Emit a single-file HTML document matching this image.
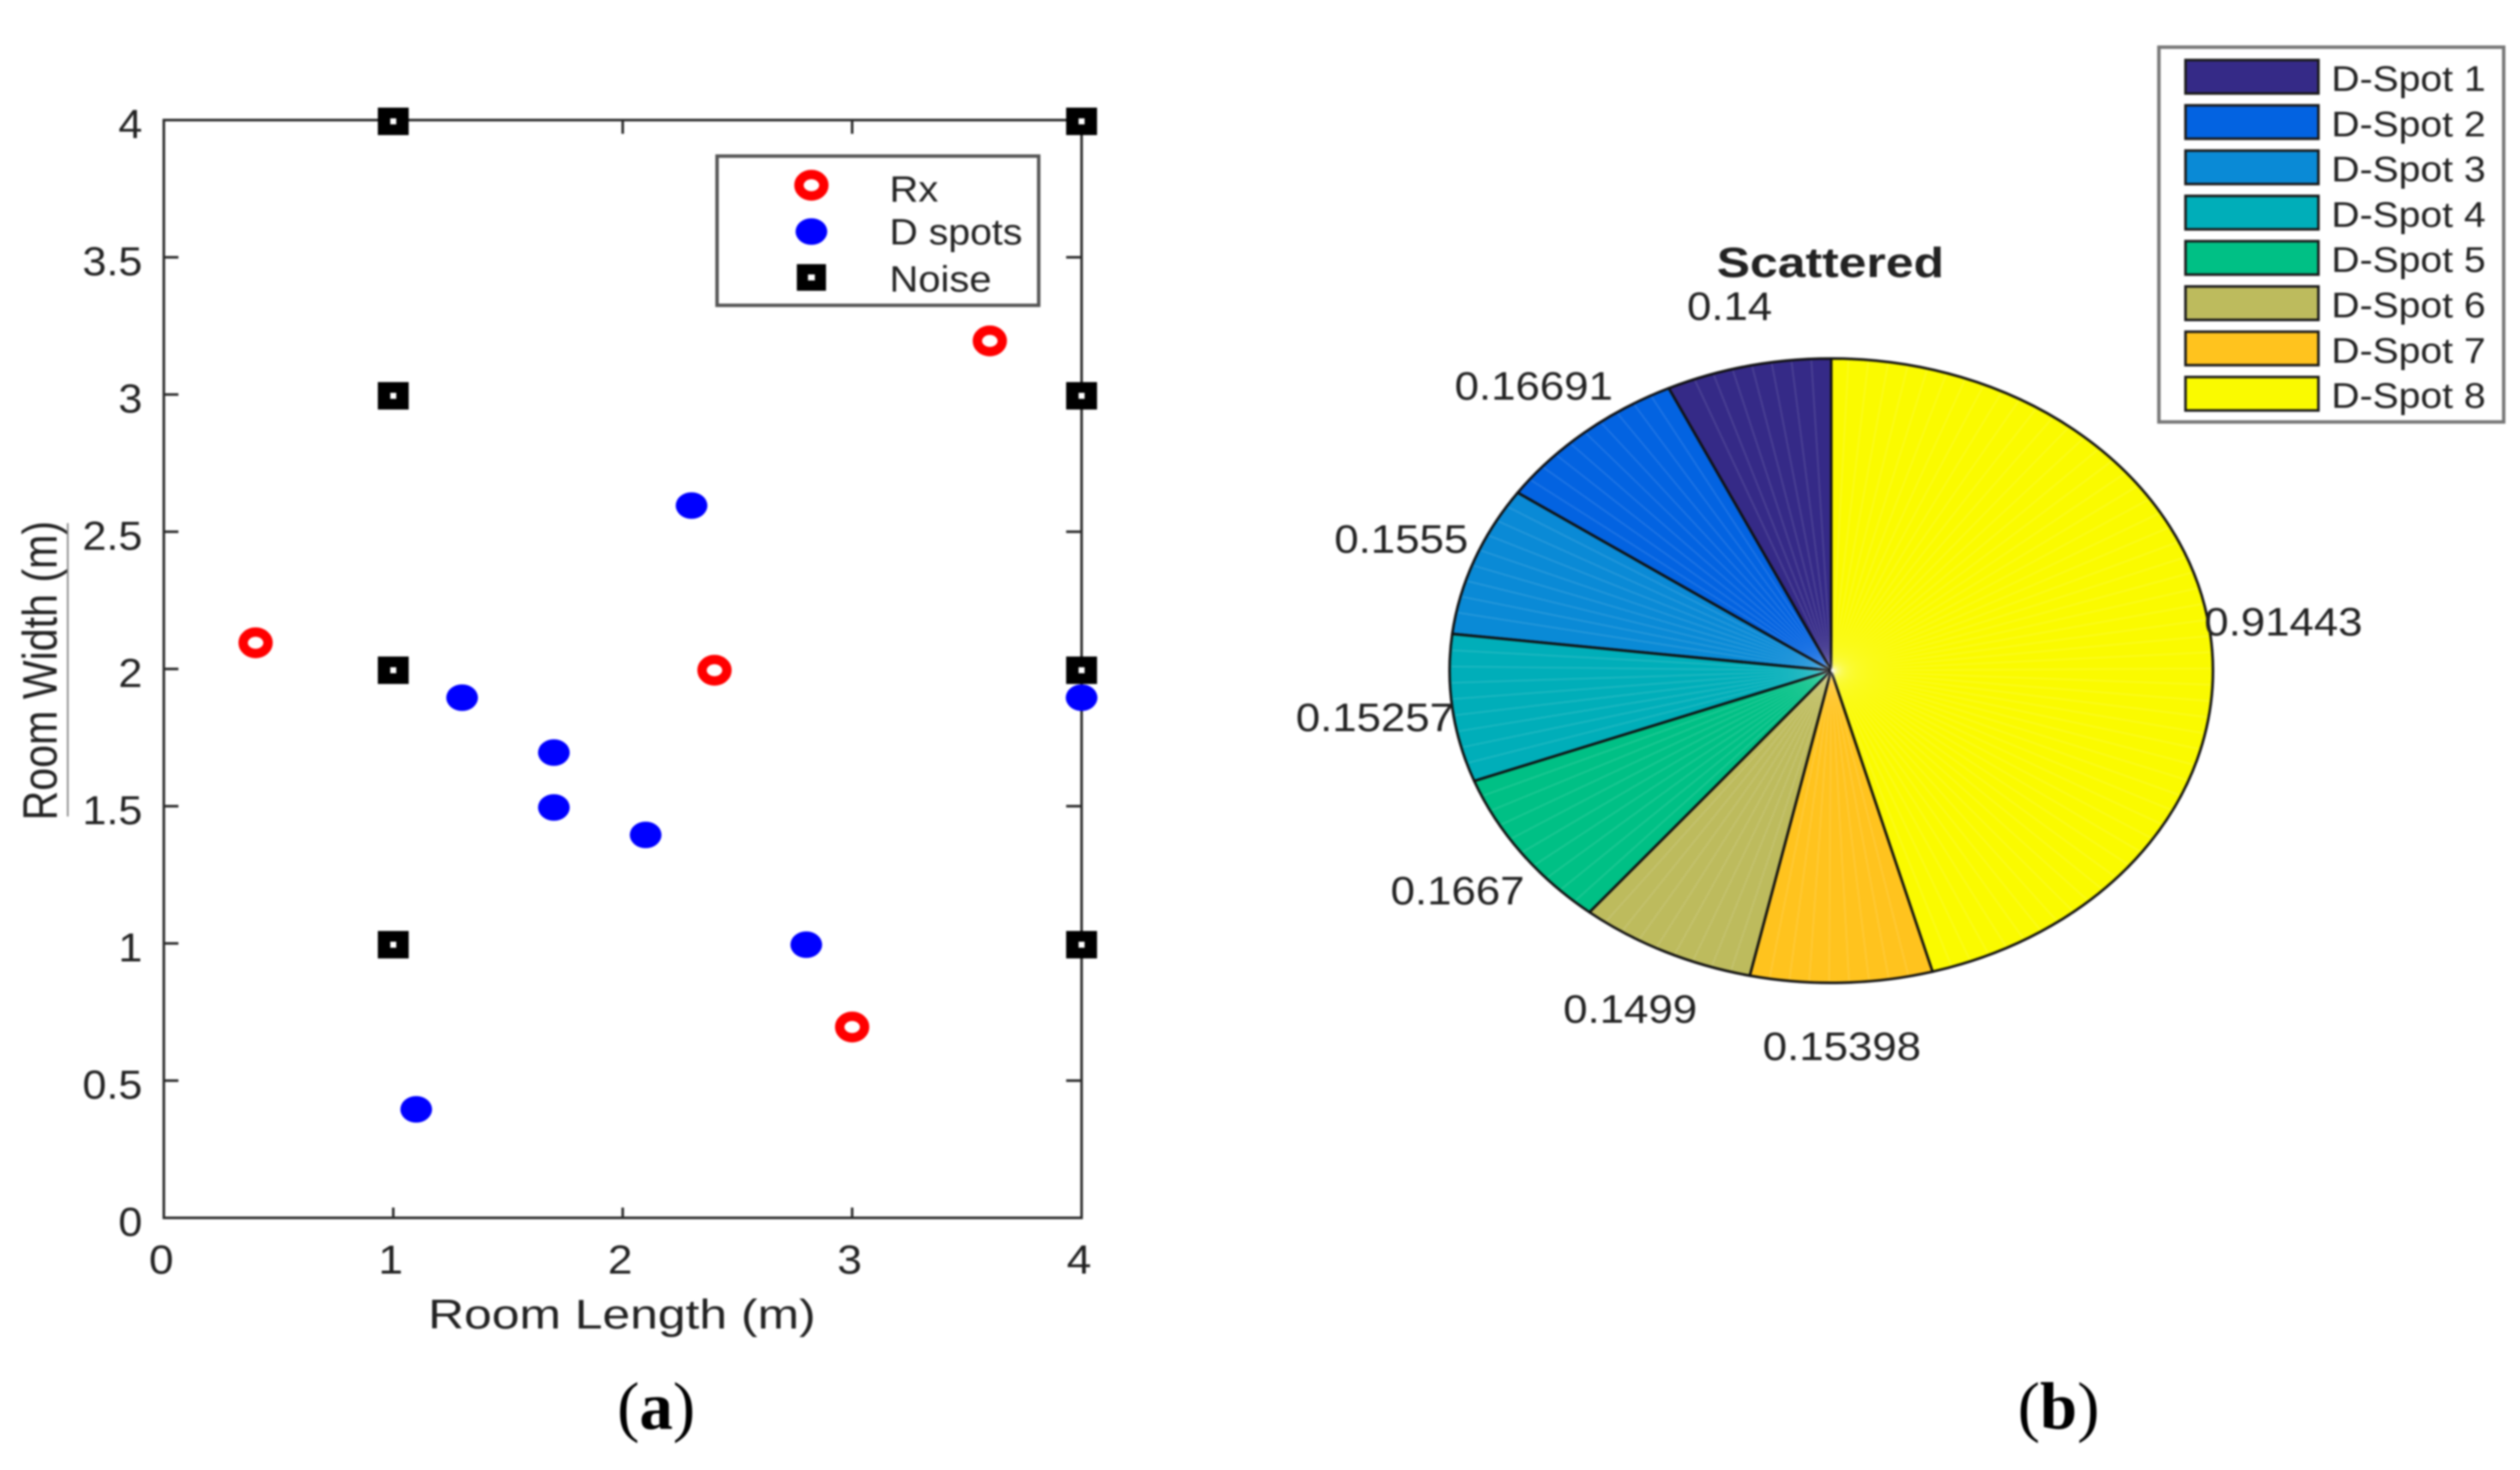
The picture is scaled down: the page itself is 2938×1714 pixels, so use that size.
<!DOCTYPE html>
<html>
<head>
<meta charset="utf-8">
<title>Room layout scatter and scattered power pie</title>
<style>
html,body{margin:0;padding:0;background:#fff;}
svg{display:block;filter:blur(1.1px);}
text{font-family:"Liberation Sans",sans-serif;fill:#222;}
</style>
</head>
<body>
<svg id="fig" xmlns="http://www.w3.org/2000/svg" width="2938" height="1714" viewBox="0 0 2938 1714">
  <rect width="2938" height="1714" fill="#fff"/>
  <g id="scatter">
    <rect x="191" y="140" width="1070" height="1280" fill="none" stroke="#2a2a2a" stroke-width="3"/>
    <g id="ticks"></g>
    <g id="marks"></g>
    <text transform="translate(725,1549) scale(1.21,1)" text-anchor="middle" font-size="48">Room Length (m)</text>
    <text transform="translate(66,782) rotate(-90) scale(1,1.18)" text-anchor="middle" font-size="48">Room Width (m)</text>
    <line x1="79" y1="610" x2="79" y2="952" stroke="#8a8a8a" stroke-width="2"/>
    <g id="legend-a">
      <rect x="836" y="182" width="375" height="174" fill="#fff" stroke="#555" stroke-width="4"/>
      <ellipse cx="946" cy="216" rx="14.5" ry="12.5" fill="none" stroke="#ff0000" stroke-width="11"/>
      <text x="1037" y="235" font-size="43" textLength="57" lengthAdjust="spacingAndGlyphs">Rx</text>
      <ellipse cx="946" cy="270" rx="18.5" ry="15.5" fill="#0000ff"/>
      <text x="1037" y="285" font-size="43" textLength="155" lengthAdjust="spacingAndGlyphs">D spots</text>
      <rect x="929" y="308" width="34" height="31" fill="#000"/>
      <rect x="942" y="320" width="8" height="7" fill="#fff"/>
      <text x="1037" y="340" font-size="43" textLength="119" lengthAdjust="spacingAndGlyphs">Noise</text>
    </g>
  </g>
  <g id="pie">
    <text x="2134" y="323" text-anchor="middle" font-size="49" font-weight="bold" textLength="265" lengthAdjust="spacingAndGlyphs">Scattered</text>
    <g id="wedges"></g>
    <g id="pie-labels"></g>
    <g id="legend-b">
      <rect x="2517" y="55" width="402" height="437" fill="#fff" stroke="#777" stroke-width="4"/>
    </g>
  </g>
  <text x="765" y="1666" text-anchor="middle" font-size="78" style="font-family:'Liberation Serif',serif;fill:#000">(<tspan font-weight="bold">a</tspan>)</text>
  <text x="2400" y="1666" text-anchor="middle" font-size="78" style="font-family:'Liberation Serif',serif;fill:#000">(<tspan font-weight="bold">b</tspan>)</text>
</svg>
<script>
const xTicks = [0, 1, 2, 3, 4];
const yTicks = [0, 0.5, 1, 1.5, 2, 2.5, 3, 3.5, 4];
const rxX = [0.4, 3.6, 2.4, 3.0];
const rxY = [2.1, 3.2, 2.0, 0.7];
const dSpotX = [2.3, 1.3, 1.7, 1.7, 2.1, 2.8, 1.1, 4.0];
const dSpotY = [2.6, 1.9, 1.7, 1.5, 1.4, 1.0, 0.4, 1.9];
const noiseX = [1, 1, 1, 1, 4, 4, 4, 4];
const noiseY = [1, 2, 3, 4, 1, 2, 3, 4];
const pieValues = [0.14, 0.16691, 0.1555, 0.15257, 0.1667, 0.1499, 0.15398, 0.91443];
const pieNames = ["D-Spot 1", "D-Spot 2", "D-Spot 3", "D-Spot 4", "D-Spot 5", "D-Spot 6", "D-Spot 7", "D-Spot 8"];
const pieColors = ["#352a87", "#0363e1", "#0a8ad6", "#00aeb9", "#00c085", "#bdbb5d", "#ffc31e", "#fafa00"];

const NS = "http://www.w3.org/2000/svg";
function make(tag, parent, attrs, content) {
  const n = document.createElementNS(NS, tag);
  for (const k in attrs) n.setAttribute(k, attrs[k]);
  if (content !== undefined) n.textContent = content;
  parent.appendChild(n);
  return n;
}
const xScale = v => 191 + 267.5 * v;
const yScale = v => 1420 - 320 * v;
const markY = v => yScale(v) + 1.5;

const tickGroup = document.getElementById("ticks");
const tickStyle = { stroke: "#2a2a2a", "stroke-width": 3 };
xTicks.forEach(t => {
  const x = xScale(t);
  if (t > 0 && t < 4) {
    const b = make("line", tickGroup, Object.assign({ x1: x, x2: x, y1: 1420, y2: 1408 }, tickStyle));
    
    
    const u = make("line", tickGroup, Object.assign({ x1: x, x2: x, y1: 140, y2: 156 }, tickStyle));
    
    
  }
  const lab = make("text", tickGroup, { transform: "translate(" + (x - 3) + ",1485) scale(1.1,1)", "text-anchor": "middle", "font-size": 47 }, String(t));
  
  
});
yTicks.forEach(t => {
  const y = yScale(t);
  if (t > 0 && t < 4) {
    const l = make("line", tickGroup, Object.assign({ x1: 191, x2: 208, y1: y, y2: y }, tickStyle));
    
    
    const r = make("line", tickGroup, Object.assign({ x1: 1261, x2: 1243, y1: y, y2: y }, tickStyle));
    
    
  }
  const lab = make("text", tickGroup, { transform: "translate(166," + (y + 21) + ") scale(1.07,1)", "text-anchor": "end", "font-size": 47 }, String(t));
  
  
});

const marks = document.getElementById("marks");
rxX.forEach((v, i) => {
  const m = make("ellipse", marks, { cx: xScale(v), cy: markY(rxY[i]), rx: 14.5, ry: 12.5, fill: "none", stroke: "#ff0000", "stroke-width": 11 });
  
  
});
noiseX.forEach((v, i) => {
  const cx = xScale(v), cy = markY(noiseY[i]);
  const m = make("rect", marks, { x: cx - 18, y: cy - 16, width: 36, height: 32, fill: "#000" });
  
  
  const h = make("rect", marks, { x: cx - 3.5, y: cy - 3.5, width: 7, height: 7, fill: "#fff" });
  
  
});
dSpotX.forEach((v, i) => {
  const m = make("ellipse", marks, { cx: xScale(v), cy: markY(dSpotY[i]), rx: 18.5, ry: 15.5, fill: "#0000ff" });
  
  
});

// Pie: starts at 12 o'clock, runs counter-clockwise, as a parametric ellipse
const pieCx = 2135, pieCy = 782, pieRx = 445, pieRy = 364;
const total = pieValues.reduce((a, b) => a + b, 0);
const px = (a, k) => pieCx - pieRx * k * Math.sin(a);
const py = (a, k) => pieCy - pieRy * k * Math.cos(a);
const wedgeGroup = document.getElementById("wedges");
const labelGroup = document.getElementById("pie-labels");
let cumulative = 0;
pieValues.forEach((v, i) => {
  const a0 = cumulative / total * 2 * Math.PI;
  cumulative += v;
  const a1 = cumulative / total * 2 * Math.PI;
  const large = (a1 - a0) > Math.PI ? 1 : 0;
  const d = "M" + pieCx + " " + pieCy + " L" + px(a0, 1) + " " + py(a0, 1) +
    " A" + pieRx + " " + pieRy + " 0 " + large + " 0 " + px(a1, 1) + " " + py(a1, 1) + " Z";
  const w = make("path", wedgeGroup, { d: d, fill: pieColors[i], stroke: "#111", "stroke-width": 3, "stroke-linejoin": "round" });
  
  
  const step = 3 * Math.PI / 180;
  for (let a = a0 + step; a < a1 - step / 2; a += step) {
    const s = make("line", wedgeGroup, { x1: pieCx, y1: pieCy, x2: px(a, 0.995), y2: py(a, 0.995), stroke: "#fff", "stroke-opacity": 0.14, "stroke-width": 1.5 });
    
    
  }
  const mid = (a0 + a1) / 2;
  const lab = make("text", labelGroup, { transform: "translate(" + (px(mid, 1.2) - 2) + "," + (py(mid, 1.2) + 17.5) + ") scale(1.11,1)", "text-anchor": "middle", "font-size": 46 }, String(v));
  
  
});

const legendB = document.getElementById("legend-b");
pieNames.forEach((name, i) => {
  const top = 70 + i * 52.8;
  const sw = make("rect", legendB, { x: 2548, y: top, width: 155, height: 39, fill: pieColors[i], stroke: "#1a1a1a", "stroke-width": 3 });
  
  
  const t = make("text", legendB, { x: 2718, y: top + 36, "font-size": 42, textLength: 180, lengthAdjust: "spacingAndGlyphs" }, name);
  
  
});
</script>
</body>
</html>
